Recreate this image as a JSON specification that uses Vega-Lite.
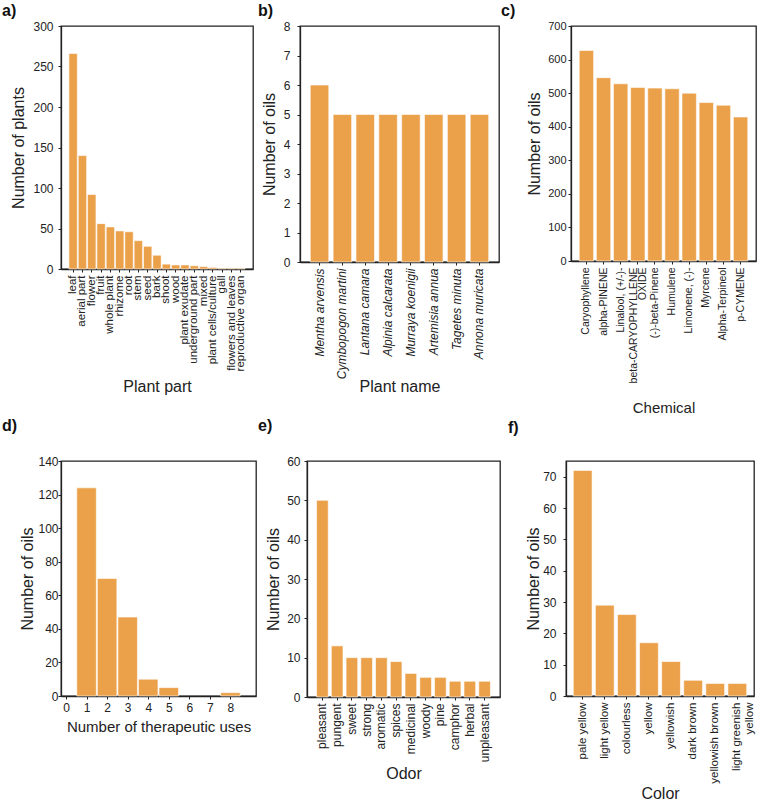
{
  "$schema": "https://vega.github.io/schema/vega-lite/v6.json",
  "padding": {"left": 1, "top": 2, "right": 0, "bottom": 0},
  "background": "white",
  "datasets": {
    "parts": [
      {"part": "leaf", "plants": 266},
      {"part": "aerial part", "plants": 140},
      {"part": "flower", "plants": 92},
      {"part": "fruit", "plants": 56},
      {"part": "whole plant", "plants": 52},
      {"part": "rhizome", "plants": 47},
      {"part": "root", "plants": 46},
      {"part": "stem", "plants": 35},
      {"part": "seed", "plants": 28},
      {"part": "bark", "plants": 17},
      {"part": "shoot", "plants": 6},
      {"part": "wood", "plants": 5},
      {"part": "plant exudate", "plants": 5},
      {"part": "underground part", "plants": 4},
      {"part": "mixed", "plants": 3},
      {"part": "plant cells/culture", "plants": 2},
      {"part": "gall", "plants": 1},
      {"part": "flowers and leaves", "plants": 1},
      {"part": "reproductive organ", "plants": 1}
    ],
    "species": [
      {"name": "Mentha arvensis", "oils": 6},
      {"name": "Cymbopogon martini", "oils": 5},
      {"name": "Lantana camara", "oils": 5},
      {"name": "Alpinia calcarata", "oils": 5},
      {"name": "Murraya koenigii", "oils": 5},
      {"name": "Artemisia annua", "oils": 5},
      {"name": "Tagetes minuta", "oils": 5},
      {"name": "Annona muricata", "oils": 5}
    ],
    "chemicals": [
      {"chemical": "Caryophyllene", "oils": 627},
      {"chemical": "alpha-PINENE", "oils": 546},
      {"chemical": "Linalool, (+/-)-", "oils": 528},
      {"chemical": "beta-CARYOPHYLLENE OXIDE", "oils": 517},
      {"chemical": "(-)-beta-Pinene", "oils": 515},
      {"chemical": "Humulene", "oils": 513},
      {"chemical": "Limonene, (-)-", "oils": 500},
      {"chemical": "Myrcene", "oils": 472},
      {"chemical": "Alpha-Terpineol", "oils": 464},
      {"chemical": "p-CYMENE", "oils": 429}
    ],
    "uses": [
      {"uses": 1, "oils": 124},
      {"uses": 2, "oils": 70},
      {"uses": 3, "oils": 47},
      {"uses": 4, "oils": 10},
      {"uses": 5, "oils": 5},
      {"uses": 8, "oils": 2}
    ],
    "odors": [
      {"odor": "pleasant", "oils": 50},
      {"odor": "pungent", "oils": 13},
      {"odor": "sweet", "oils": 10},
      {"odor": "strong", "oils": 10},
      {"odor": "aromatic", "oils": 10},
      {"odor": "spices", "oils": 9},
      {"odor": "medicinal", "oils": 6},
      {"odor": "woody", "oils": 5},
      {"odor": "pine", "oils": 5},
      {"odor": "camphor", "oils": 4},
      {"odor": "herbal", "oils": 4},
      {"odor": "unpleasant", "oils": 4}
    ],
    "colors": [
      {"color": "pale yellow", "oils": 72},
      {"color": "light yellow", "oils": 29},
      {"color": "colourless", "oils": 26},
      {"color": "yellow", "oils": 17},
      {"color": "yellowish", "oils": 11},
      {"color": "dark brown", "oils": 5},
      {"color": "yellowish brown", "oils": 4},
      {"color": "light greenish yellow", "oils": 4}
    ]
  },
  "columns": 3,
  "align": {"row": "each", "column": "none"},
  "spacing": {"row": 1, "column": 0},
  "concat": [
    {
      "title": {"text": "a)", "dx": -59, "offset": 1},
      "width": 192,
      "height": 243,
      "data": {"name": "parts"},
      "mark": {"type": "bar", "color": "#EBA04A", "stroke": "white", "strokeWidth": 0.6},
      "encoding": {
        "x": {"field": "part", "type": "nominal", "sort": null, "title": "Plant part",
              "scale": {"paddingInner": 0.1, "paddingOuter": 0.85},
              "axis": {"labelAngle": -90, "labelFontSize": 11.5, "labelOverlap": false,
                       "titleY": 122, "titleBaseline": "alphabetic"}},
        "y": {"field": "plants", "type": "quantitative", "title": "Number of plants",
              "scale": {"domain": [0, 300], "nice": false},
              "axis": {"values": [0, 50, 100, 150, 200, 250, 300], "labelPadding": 5, "titlePadding": 6}}
      }
    },
    {
      "title": {"text": "b)", "dx": -42, "offset": 1},
      "width": 199,
      "height": 236,
      "data": {"name": "species"},
      "mark": {"type": "bar", "color": "#EBA04A", "stroke": "white", "strokeWidth": 0.6},
      "encoding": {
        "x": {"field": "name", "type": "nominal", "sort": null, "title": "Plant name",
              "scale": {"paddingInner": 0.19, "paddingOuter": 0.45},
              "axis": {"labelAngle": -90, "labelFontStyle": "italic", "labelOverlap": false,
                       "titleY": 129, "titleBaseline": "alphabetic"}},
        "y": {"field": "oils", "type": "quantitative", "title": "Number of oils",
              "scale": {"domain": [0, 8], "nice": false},
              "axis": {"values": [0, 1, 2, 3, 4, 5, 6, 7, 8], "labelPadding": 7, "titlePadding": 6}}
      }
    },
    {
      "title": {"text": "c)", "dx": -70, "offset": 1},
      "width": 185,
      "height": 235,
      "data": {"name": "chemicals"},
      "mark": {"type": "bar", "color": "#EBA04A", "stroke": "white", "strokeWidth": 0.6},
      "encoding": {
        "x": {"field": "chemical", "type": "nominal", "sort": null, "title": "Chemical",
              "scale": {"paddingInner": 0.16, "paddingOuter": 0.48},
              "axis": {"labelAngle": -90, "labelFontSize": 10.5, "labelOverlap": false,
                       "labelLineHeight": 9,
                       "labelOffset": {"condition": {"test": "datum.value == 'beta-CARYOPHYLLENE OXIDE'", "value": -4}, "value": 0},
                       "labelExpr": "datum.value == 'beta-CARYOPHYLLENE OXIDE' ? ['beta-CARYOPHYLLENE', 'OXIDE'] : datum.label",
                       "titleFontSize": 15, "titleY": 151, "titleBaseline": "alphabetic"}},
        "y": {"field": "oils", "type": "quantitative", "title": "Number of oils",
              "scale": {"domain": [0, 700], "nice": false},
              "axis": {"values": [0, 100, 200, 300, 400, 500, 600, 700], "labelFontSize": 11, "labelPadding": 2, "titlePadding": 5}}
      }
    },
    {
      "title": {"text": "d)", "dx": -59, "offset": 21},
      "width": 195,
      "height": 235,
      "data": {"name": "uses"},
      "mark": {"type": "bar", "color": "#EBA04A", "stroke": "white", "strokeWidth": 0.6, "width": 19.5},
      "encoding": {
        "x": {"field": "uses", "type": "quantitative", "title": "Number of therapeutic uses",
              "scale": {"domain": [0, 9], "nice": false},
              "axis": {"values": [0, 1, 2, 3, 4, 5, 6, 7, 8], "titleFontSize": 15,
                       "titleY": 35, "titleBaseline": "alphabetic"}},
        "y": {"field": "oils", "type": "quantitative", "title": "Number of oils",
              "scale": {"domain": [0, 140], "nice": false},
              "axis": {"values": [0, 20, 40, 60, 80, 100, 120, 140], "labelPadding": 0, "titlePadding": 2}}
      }
    },
    {
      "title": {"text": "e)", "dx": -49, "offset": 21},
      "width": 193,
      "height": 236,
      "data": {"name": "odors"},
      "mark": {"type": "bar", "color": "#EBA04A", "stroke": "white", "strokeWidth": 0.6},
      "encoding": {
        "x": {"field": "odor", "type": "nominal", "sort": null, "title": "Odor",
              "scale": {"paddingInner": 0.21, "paddingOuter": 0.65},
              "axis": {"labelAngle": -90, "labelOverlap": false,
                       "titleY": 81, "titleBaseline": "alphabetic"}},
        "y": {"field": "oils", "type": "quantitative", "title": "Number of oils",
              "scale": {"domain": [0, 60], "nice": false},
              "axis": {"values": [0, 10, 20, 30, 40, 50, 60], "labelPadding": 4, "titlePadding": 5}}
      }
    },
    {
      "title": {"text": "f)", "dx": -58, "offset": 25},
      "width": 188,
      "height": 235,
      "data": {"name": "colors"},
      "mark": {"type": "bar", "color": "#EBA04A", "stroke": "white", "strokeWidth": 0.6},
      "encoding": {
        "x": {"field": "color", "type": "nominal", "sort": null, "title": "Color",
              "scale": {"paddingInner": 0.15, "paddingOuter": 0.33},
              "axis": {"labelAngle": -90, "labelFontSize": 11.5, "labelOverlap": false,
                       "labelLineHeight": 13,
                       "labelExpr": "datum.value == 'light greenish yellow' ? ['light greenish', 'yellow'] : datum.label",
                       "titleY": 102, "titleBaseline": "alphabetic"}},
        "y": {"field": "oils", "type": "quantitative", "title": "Number of oils",
              "scale": {"domain": [0, 75], "nice": false},
              "axis": {"values": [0, 10, 20, 30, 40, 50, 60, 70], "labelPadding": 7, "titlePadding": 1}}
      }
    }
  ],
  "config": {
    "font": "Liberation Sans",
    "view": {"stroke": "#222222", "strokeWidth": 1.3},
    "axis": {
      "grid": false,
      "labelFont": "Liberation Sans",
      "labelFontSize": 12,
      "labelColor": "#222222",
      "titleFont": "Liberation Sans",
      "titleFontSize": 16,
      "titleFontWeight": "normal",
      "titleColor": "#222222",
      "domainColor": "#222222",
      "domainWidth": 1.3,
      "tickColor": "#222222",
      "tickSize": 3,
      "labelPadding": 3
    },
    "title": {
      "font": "Liberation Sans",
      "fontSize": 16,
      "fontWeight": "bold",
      "anchor": "start",
      "frame": "group",
      "color": "#111111"
    }
  }
}
